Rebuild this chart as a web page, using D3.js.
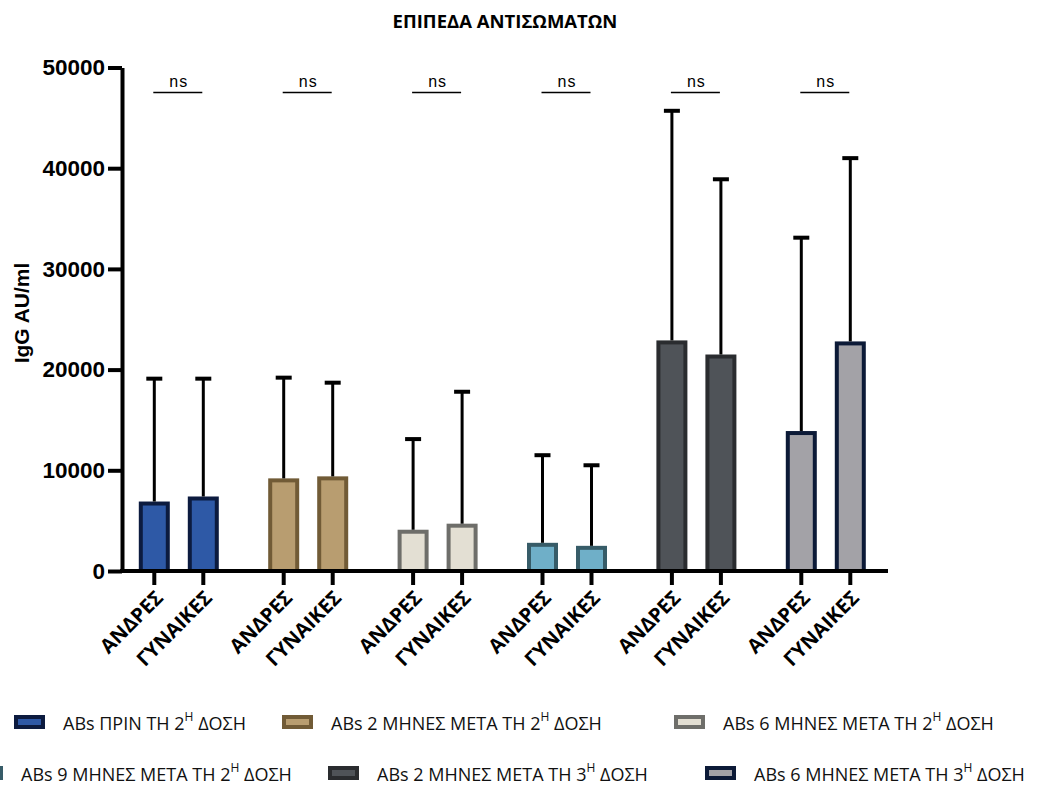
<!DOCTYPE html>
<html>
<head>
<meta charset="utf-8">
<script src="https://cdn.jsdelivr.net/npm/d3@7"></script>
<style>
  html, body { margin: 0; padding: 0; background: #fff; }
  svg { display: block; }
</style>
</head>
<body>
<svg id="chart" width="1054" height="790"></svg>
<script>
// Antibody levels (IgG AU/ml) by sampling time point and sex: mean with upward SD bar
const timepoints = [
  "ABs ΠΡΙΝ ΤΗ 2^Η ΔΟΣΗ",
  "ABs 2 ΜΗΝΕΣ ΜΕΤΑ ΤΗ 2^Η ΔΟΣΗ",
  "ABs 6 ΜΗΝΕΣ ΜΕΤΑ ΤΗ 2^Η ΔΟΣΗ",
  "ABs 9 ΜΗΝΕΣ ΜΕΤΑ ΤΗ 2^Η ΔΟΣΗ",
  "ABs 2 ΜΗΝΕΣ ΜΕΤΑ ΤΗ 3^Η ΔΟΣΗ",
  "ABs 6 ΜΗΝΕΣ ΜΕΤΑ ΤΗ 3^Η ΔΟΣΗ"
];
const sexes = ["ΑΝΔΡΕΣ", "ΓΥΝΑΙΚΕΣ"];
const meanMen   = [6700, 9000, 3900, 2600, 22700, 13700];
const meanWomen = [7200, 9200, 4500, 2300, 21300, 22600];
const sdMen     = [12400, 10200, 9200, 8900, 23000, 19400];
const sdWomen   = [11900, 9500, 13300, 8200, 17600, 18400];
const significance = ["ns", "ns", "ns", "ns", "ns", "ns"];
const yTicks = [0, 10000, 20000, 30000, 40000, 50000];

const fills   = ["#2E59A6", "#B89D70", "#E3DFD3", "#6FAFC8", "#4F5358", "#A3A2A7"];
const strokes = ["#0C1B3F", "#715B36", "#6E6E6A", "#375C68", "#2A2C2F", "#0C1A37"];

const svg = d3.select("#chart");
const AXIS = "#000";

// Scales
const y = d3.scaleLinear().domain([0, 50000]).range([571, 67.5]);
const xGroup = d3.scaleBand().domain(timepoints).range([114.1, 890.5]).padding(0);
const xSex = d3.scalePoint().domain(sexes).range([-24.5, 24.5]);
const barX = (g, s) => xGroup(g) + xGroup.bandwidth() / 2 + xSex(s);

const bars = [];
timepoints.forEach((g, i) => {
  bars.push({ g, i, sex: sexes[0], mean: meanMen[i], sd: sdMen[i] });
  bars.push({ g, i, sex: sexes[1], mean: meanWomen[i], sd: sdWomen[i] });
});

// Title
svg.append("text")
  .attr("x", 505).attr("y", 28)
  .attr("text-anchor", "middle")
  .attr("font-family", "'Open Sans', sans-serif")
  .attr("font-weight", 700)
  .attr("font-size", 18.5)
  .text("ΕΠΙΠΕΔΑ ΑΝΤΙΣΩΜΑΤΩΝ");

// Y axis
const yAxis = svg.append("g")
  .attr("transform", "translate(122,0)")
  .call(d3.axisLeft(y).tickValues(yTicks).tickSize(14).tickSizeOuter(0).tickPadding(3).tickFormat(d3.format("d")));
yAxis.select(".domain").attr("stroke", AXIS).attr("stroke-width", 4);
yAxis.selectAll(".tick line").attr("stroke", AXIS).attr("stroke-width", 4);
yAxis.selectAll(".tick text")
  .attr("font-family", "'Liberation Sans', Arial, sans-serif")
  .attr("font-weight", 700)
  .attr("font-size", 22.5)
  .attr("fill", "#000");

svg.append("text")
  .attr("transform", "translate(29,313) rotate(-90)")
  .attr("text-anchor", "middle")
  .attr("font-family", "'Liberation Sans', Arial, sans-serif")
  .attr("font-weight", 700)
  .attr("font-size", 21)
  .text("IgG AU/ml");

// Bars
const barW = 27;
svg.append("g").selectAll("rect").data(bars).join("rect")
  .attr("x", d => barX(d.g, d.sex) - barW / 2)
  .attr("width", barW)
  .attr("y", d => y(d.mean))
  .attr("height", d => y(0) - y(d.mean))
  .attr("fill", d => fills[d.i])
  .attr("stroke", d => strokes[d.i])
  .attr("stroke-width", 4);

// Upper error bars
const err = svg.append("g").attr("stroke", "#000");
err.selectAll("line.v").data(bars).join("line").attr("class", "v")
  .attr("x1", d => barX(d.g, d.sex)).attr("x2", d => barX(d.g, d.sex))
  .attr("y1", d => y(d.mean) - 2).attr("y2", d => y(d.mean + d.sd))
  .attr("stroke-width", 3);
err.selectAll("line.c").data(bars).join("line").attr("class", "c")
  .attr("x1", d => barX(d.g, d.sex) - 8).attr("x2", d => barX(d.g, d.sex) + 8)
  .attr("y1", d => y(d.mean + d.sd)).attr("y2", d => y(d.mean + d.sd))
  .attr("stroke-width", 4);

// X axis line, ticks and rotated labels
svg.append("line")
  .attr("x1", 120).attr("x2", 888)
  .attr("y1", y(0)).attr("y2", y(0))
  .attr("stroke", AXIS).attr("stroke-width", 4);
svg.append("g").selectAll("line").data(bars).join("line")
  .attr("x1", d => barX(d.g, d.sex)).attr("x2", d => barX(d.g, d.sex))
  .attr("y1", y(0)).attr("y2", y(0) + 14)
  .attr("stroke", AXIS).attr("stroke-width", 4);
svg.append("g").selectAll("text").data(bars).join("text")
  .attr("transform", d => `translate(${barX(d.g, d.sex) + 10},${y(0) + 28}) rotate(-45)`)
  .attr("text-anchor", "end")
  .attr("font-family", "'Open Sans', sans-serif")
  .attr("font-weight", 700)
  .attr("font-size", 20)
  .text(d => d.sex);

// Significance brackets
const sig = svg.append("g");
timepoints.forEach((g, i) => {
  const x1 = barX(g, sexes[0]), x2 = barX(g, sexes[1]);
  sig.append("line")
    .attr("x1", x1 - 1).attr("x2", x2 - 1)
    .attr("y1", 92.5).attr("y2", 92.5)
    .attr("stroke", "#000").attr("stroke-width", 1.5);
  sig.append("text")
    .attr("x", (x1 + x2) / 2).attr("y", 87)
    .attr("text-anchor", "middle")
    .attr("font-family", "'Liberation Sans', Arial, sans-serif")
    .attr("font-size", 16)
    .attr("letter-spacing", 1)
    .text(significance[i]);
});

// Legend
const legendPos = [[14, 723], [282, 723], [674, 723], [-28, 774], [328, 774], [705, 774]];
const legend = svg.append("g");
timepoints.forEach((label, i) => {
  const [lx, ly] = legendPos[i];
  legend.append("rect")
    .attr("x", lx + 2).attr("y", ly - 6)
    .attr("width", 27).attr("height", 10)
    .attr("fill", fills[i]).attr("stroke", strokes[i]).attr("stroke-width", 4);
  const parts = label.split("^");
  const t = legend.append("text")
    .attr("x", lx + 49).attr("y", ly + 7)
    .attr("font-family", "'Open Sans', sans-serif")
    .attr("font-size", 18)
    .attr("fill", "#111");
  t.append("tspan").text(parts[0]);
  t.append("tspan").attr("dy", -9).attr("font-size", 12).text(parts[1].charAt(0));
  t.append("tspan").attr("dy", 9).text(parts[1].slice(1));
});
</script>
</body>
</html>
